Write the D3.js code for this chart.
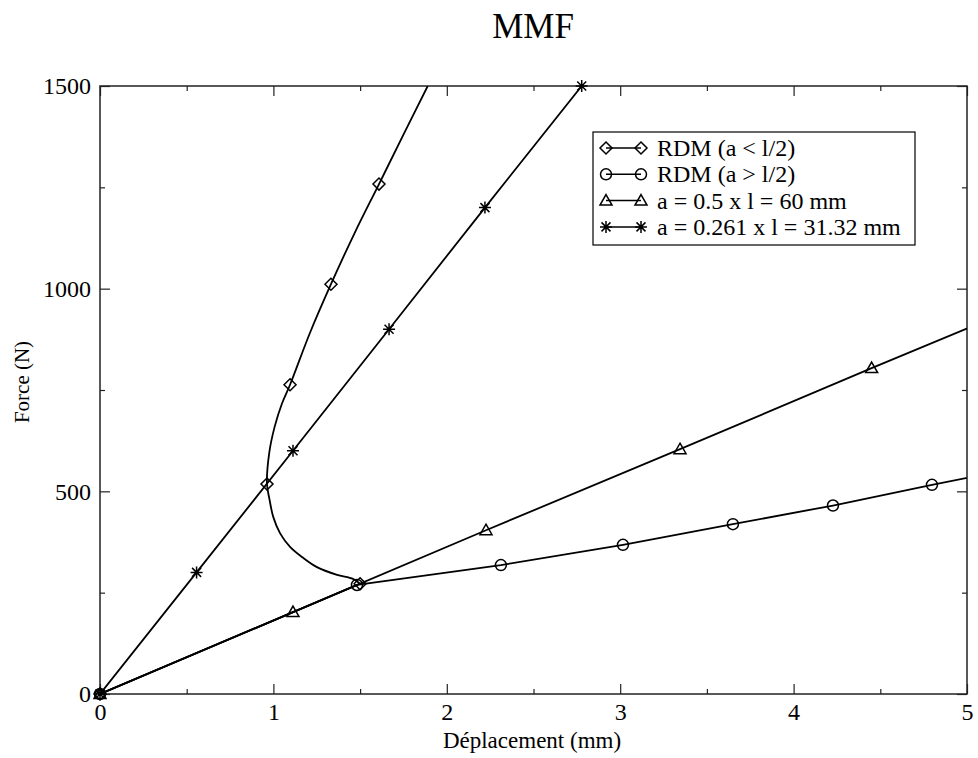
<!DOCTYPE html>
<html><head><meta charset="utf-8">
<script src="https://cdn.jsdelivr.net/npm/d3@7"></script>
<style>body{margin:0;background:#fff}</style>
</head><body><svg id="c" width="978" height="758"></svg>
<script>
const xTicks = [0, 1, 2, 3, 4, 5];
const yTicks = [0, 500, 1000, 1500];
const xMinor = [0.5, 1.5, 2.5, 3.5, 4.5];
const yMinor = [250, 750, 1250];

// a = 0.261 x l = 31.32 mm (stars)
const starX = [0, 0.557, 1.113, 1.667, 2.22, 2.778];
const starY = [0, 300, 600, 900, 1200, 1500];
// a = 0.5 x l = 60 mm (triangles)
const triX = [0, 1.113, 2.226, 3.345, 4.45, 5.56];
const triY = [0, 202, 404, 604, 804, 1001];
// RDM (a > l/2) (circles)
const circX = [0, 1.482, 2.312, 3.016, 3.65, 4.227, 4.798, 5.37];
const circY = [0, 269, 318, 368, 419, 465, 516, 565];
// RDM (a < l/2) (diamonds): curve points and marked points
const diaCurveX = [0, 1.5, 1.459, 1.367, 1.251, 1.171, 1.096, 1.038, 0.999, 0.978, 0.963, 0.976, 1.007, 1.049, 1.096, 1.21, 1.332, 1.467, 1.609, 1.75, 1.89];
const diaCurveY = [0, 272, 284, 294, 313, 336, 363, 397, 437, 479, 518, 595, 659, 716, 763, 890, 1011, 1136, 1258, 1380, 1500];
const diaMarkX = [0, 1.5, 0.963, 1.096, 1.332, 1.609];
const diaMarkY = [0, 272, 518, 763, 1011, 1258];

const legendLabels = ["RDM (a < l/2)", "RDM (a > l/2)", "a = 0.5 x l = 60 mm", "a = 0.261 x l = 31.32 mm"];
const legendSymbols = ["diamond", "circle", "triangle", "star"];

const FONT = "'Liberation Serif', 'Times New Roman', serif";
const svg = d3.select("#c");
const L = 100, R = 967, T = 86, B = 694;
const x = d3.scaleLinear().domain([0, 5]).range([L, R]);
const y = d3.scaleLinear().domain([0, 1500]).range([B, T]);

// title
svg.append("text").attr("x", 533).attr("y", 38).attr("text-anchor", "middle").style("font-family", FONT).style("font-size", "35px").text("MMF");

// axes with inward ticks
const frameColor = "#222";
function styleAxis(g){
  g.attr("font-family", null).attr("font-size", null);
  g.select(".domain").remove();
  g.selectAll("line").attr("stroke", frameColor).attr("stroke-width", 1.2);
  g.selectAll("text").style("font-family", FONT).style("font-size", "24px").attr("fill", "#000");
}
svg.append("g").attr("transform", `translate(0,${B})`).call(d3.axisBottom(x).tickValues(xTicks).tickSize(-10).tickPadding(9).tickFormat(d3.format("d"))).call(styleAxis);
svg.append("g").attr("transform", `translate(0,${B})`).call(d3.axisBottom(x).tickValues(xMinor).tickSize(-5).tickFormat("")).call(styleAxis);
svg.append("g").attr("transform", `translate(0,${T})`).call(d3.axisTop(x).tickValues(xTicks).tickSize(-10).tickFormat("")).call(styleAxis);
svg.append("g").attr("transform", `translate(0,${T})`).call(d3.axisTop(x).tickValues(xMinor).tickSize(-5).tickFormat("")).call(styleAxis);
svg.append("g").attr("transform", `translate(${L},0)`).call(d3.axisLeft(y).tickValues(yTicks).tickSize(-10).tickPadding(9).tickFormat(d3.format("d"))).call(styleAxis);
svg.append("g").attr("transform", `translate(${L},0)`).call(d3.axisLeft(y).tickValues(yMinor).tickSize(-5).tickFormat("")).call(styleAxis);
svg.append("g").attr("transform", `translate(${R},0)`).call(d3.axisRight(y).tickValues(yTicks).tickSize(-10).tickFormat("")).call(styleAxis);
svg.append("g").attr("transform", `translate(${R},0)`).call(d3.axisRight(y).tickValues(yMinor).tickSize(-5).tickFormat("")).call(styleAxis);
svg.append("rect").attr("x", L).attr("y", T).attr("width", R - L).attr("height", B - T).attr("fill", "none").attr("stroke", frameColor).attr("stroke-width", 1.5);

// axis titles
svg.append("text").attr("x", 532).attr("y", 748).attr("text-anchor", "middle").style("font-family", FONT).style("font-size", "23px").text("Déplacement (mm)");
svg.append("text").attr("transform", "translate(29,382) rotate(-90)").attr("text-anchor", "middle").style("font-family", FONT).style("font-size", "21px").text("Force (N)");

svg.append("clipPath").attr("id", "clip").append("rect").attr("x", L).attr("y", T).attr("width", R - L).attr("height", B - T);

const zip = (a, b) => a.map((v, i) => [v, b[i]]);
const line = d3.line().x(d => x(d[0])).y(d => y(d[1]));
const curve = d3.line().x(d => x(d[0])).y(d => y(d[1])).curve(d3.curveCatmullRom.alpha(0.5));
const plot = svg.append("g").attr("clip-path", "url(#clip)");
const stroke = p => p.attr("fill", "none").attr("stroke", "#000").attr("stroke-width", 1.8);

stroke(plot.append("path").attr("d", line(zip(triX, triY))));
stroke(plot.append("path").attr("d", line(zip(circX, circY))));
stroke(plot.append("path").attr("d", line(zip(starX, starY))));
const diaPts = zip(diaCurveX, diaCurveY);
stroke(plot.append("path").attr("d", line(diaPts.slice(0, 2))));
stroke(plot.append("path").attr("d", curve(diaPts.slice(1))));

function drawMarker(g, type, cx, cy){
  let el;
  if (type === "diamond") el = g.append("path").attr("d", `M${cx},${cy-6}L${cx+6},${cy}L${cx},${cy+6}L${cx-6},${cy}Z`);
  else if (type === "circle") el = g.append("circle").attr("cx", cx).attr("cy", cy).attr("r", 5.5);
  else if (type === "triangle") el = g.append("path").attr("d", `M${cx},${cy-6}L${cx+6},${cy+4.5}L${cx-6},${cy+4.5}Z`);
  else el = g.append("path").attr("d", `M${cx-6},${cy}L${cx+6},${cy}M${cx},${cy-6}L${cx},${cy+6}M${cx-4.5},${cy-4.5}L${cx+4.5},${cy+4.5}M${cx-4.5},${cy+4.5}L${cx+4.5},${cy-4.5}`);
  el.attr("fill", "none").attr("stroke", "#000").attr("stroke-width", 1.5);
}
const mk = svg.append("g");
const inDom = (px, py) => px >= 0 && px <= 5 && py >= 0 && py <= 1500;
zip(triX, triY).filter(d => inDom(...d)).forEach(d => drawMarker(mk, "triangle", x(d[0]), y(d[1])));
zip(circX, circY).filter(d => inDom(...d)).forEach(d => drawMarker(mk, "circle", x(d[0]), y(d[1])));
zip(starX, starY).filter(d => inDom(...d)).forEach(d => drawMarker(mk, "star", x(d[0]), y(d[1])));
zip(diaMarkX, diaMarkY).filter(d => inDom(...d)).forEach(d => drawMarker(mk, "diamond", x(d[0]), y(d[1])));

// legend
const lg = svg.append("g");
lg.append("rect").attr("x", 593).attr("y", 132).attr("width", 322).attr("height", 113).attr("fill", "#fff").attr("stroke", "#000").attr("stroke-width", 1.2);
legendLabels.forEach((lab, i) => {
  const cy = 148 + i * 26.3;
  lg.append("line").attr("x1", 606).attr("x2", 641).attr("y1", cy).attr("y2", cy).attr("stroke", "#000").attr("stroke-width", 1.5);
  drawMarker(lg, legendSymbols[i], 606, cy);
  drawMarker(lg, legendSymbols[i], 641, cy);
  lg.append("text").attr("x", 657).attr("y", cy + 8).style("font-family", FONT).style("font-size", "24px").text(lab);
});
</script></body></html>
